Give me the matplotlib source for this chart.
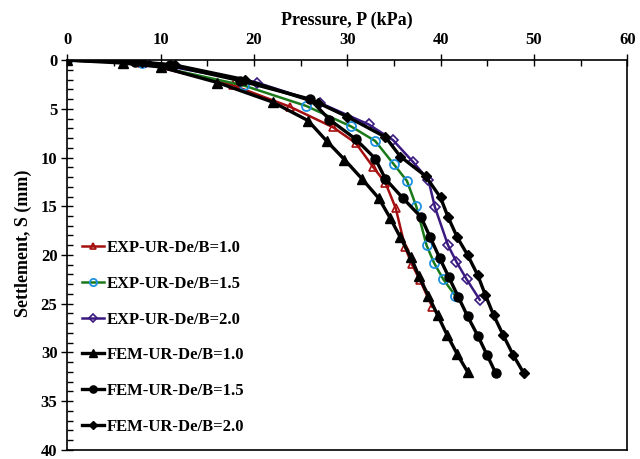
import matplotlib
matplotlib.use("Agg")
import matplotlib.pyplot as plt
from matplotlib.ticker import MultipleLocator

plt.rcParams['font.family'] = ['Liberation Serif', 'DejaVu Serif']
plt.rcParams['font.weight'] = 'bold'

# Experimental load-settlement curves
exp_10_p = [0, 8.0, 17.8, 23.9, 28.5, 30.9, 32.8, 34.1, 35.2, 36.2, 36.9, 37.8, 39.1]
exp_10_s = [0, 0.3, 2.6, 4.8, 6.9, 8.5, 11.0, 12.6, 15.2, 19.2, 20.9, 22.6, 25.3]

exp_15_p = [0, 8.0, 18.9, 25.6, 30.4, 33.0, 35.0, 36.4, 37.4, 38.5, 39.3, 40.3, 41.6]
exp_15_s = [0, 0.3, 2.6, 4.7, 6.8, 8.3, 10.7, 12.4, 15.0, 19.0, 20.8, 22.5, 24.2]

exp_20_p = [0, 8.4, 20.3, 27.1, 32.3, 34.9, 37.1, 38.7, 39.4, 40.8, 41.7, 42.8, 44.2]
exp_20_s = [0, 0.2, 2.3, 4.4, 6.6, 8.2, 10.5, 12.3, 15.1, 19.0, 20.7, 22.5, 24.6]

# FEM load-settlement curves
fem_10_p = [0, 6.0, 10.0, 16.1, 22.0, 25.8, 27.8, 29.7, 31.6, 33.4, 34.6, 35.7, 36.8, 37.7, 38.7, 39.7, 40.7, 41.8, 42.9]
fem_10_s = [0, 0.3, 0.7, 2.3, 4.3, 6.2, 8.3, 10.2, 12.2, 14.2, 16.2, 18.2, 20.2, 22.2, 24.2, 26.2, 28.2, 30.2, 32.0]

fem_15_p = [0, 7.3, 11.0, 18.5, 26.0, 28.1, 30.9, 33.0, 34.1, 36.0, 37.9, 38.9, 39.9, 40.9, 41.9, 42.9, 44.0, 45.0, 45.9]
fem_15_s = [0, 0.2, 0.5, 2.1, 4.0, 6.1, 8.1, 10.1, 12.2, 14.2, 16.1, 18.2, 20.3, 22.3, 24.3, 26.3, 28.3, 30.3, 32.1]

fem_20_p = [0, 8.0, 11.5, 19.0, 26.9, 30.0, 34.1, 35.7, 38.4, 40.0, 40.8, 41.8, 42.9, 44.0, 44.8, 45.7, 46.7, 47.8, 48.9]
fem_20_s = [0, 0.2, 0.5, 2.0, 4.4, 5.8, 7.9, 9.9, 11.9, 14.1, 16.1, 18.2, 20.0, 22.1, 24.1, 26.2, 28.2, 30.3, 32.1]

fig = plt.figure(figsize=(6.4, 4.59), dpi=100)
ax = fig.add_axes([0.105, 0.02, 0.875, 0.849])

ax.plot(exp_10_p, exp_10_s, color='#A50F0F', lw=1.8, marker='^', ms=6,
        mfc='none', mec='#A50F0F', mew=1.2, label='EXP-UR-De/B=1.0')
ax.plot(exp_15_p, exp_15_s, color='#1A7A1A', lw=1.8, marker='o', ms=6.5,
        mfc='none', mec='#1E90E0', mew=1.3, label='EXP-UR-De/B=1.5')
ax.plot(exp_20_p, exp_20_s, color='#3B1A80', lw=1.8, marker='D', ms=5,
        mfc='none', mec='#3B1A80', mew=1.2, label='EXP-UR-De/B=2.0')
ax.plot(fem_10_p, fem_10_s, color='black', lw=2.4, marker='^', ms=6.5,
        label='FEM-UR-De/B=1.0')
ax.plot(fem_15_p, fem_15_s, color='black', lw=2.4, marker='o', ms=6.5,
        label='FEM-UR-De/B=1.5')
ax.plot(fem_20_p, fem_20_s, color='black', lw=2.4, marker='D', ms=5,
        label='FEM-UR-De/B=2.0')

ax.set_xlim(0, 60)
ax.set_ylim(40, 0)
ax.xaxis.set_ticks_position('top')
ax.xaxis.set_label_position('top')
ax.xaxis.set_major_locator(MultipleLocator(10))
ax.xaxis.set_minor_locator(MultipleLocator(5))
ax.yaxis.set_major_locator(MultipleLocator(5))
ax.yaxis.set_minor_locator(MultipleLocator(1))
ax.tick_params(axis='both', which='major', labelsize=12, direction='inout', length=8, width=1, pad=3)
ax.tick_params(axis='x', which='major', pad=5)
ax.tick_params(axis='both', which='minor', direction='in', length=4, width=1)
for sp in ax.spines.values():
    sp.set_linewidth(1.2)

ax.set_xlabel('Pressure, P (kPa)', fontsize=13, fontweight='bold', labelpad=5)
ax.set_ylabel('Settlement, S (mm)', fontsize=13, fontweight='bold')
ax.yaxis.set_label_coords(-0.062, 0.53)

leg = ax.legend(loc='lower left', bbox_to_anchor=(0.015, 0.022), frameon=False,
                fontsize=12, labelspacing=1.18, handlelength=1.3, handletextpad=0.15,
                borderaxespad=0, markerscale=0.8)

fig.savefig('out.png', dpi=100)
